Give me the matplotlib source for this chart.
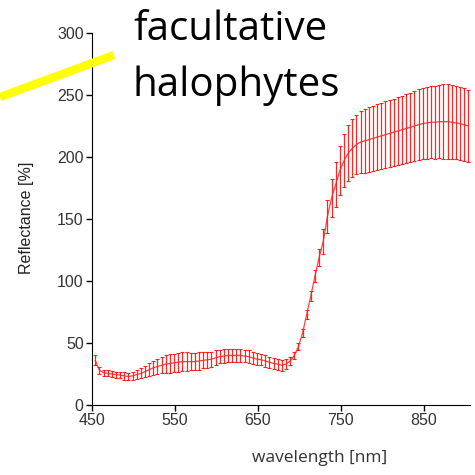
import matplotlib
matplotlib.use("Agg")
import matplotlib.pyplot as plt
from matplotlib.lines import Line2D

# wavelength [nm], every 5 nm
wavelength = list(range(454, 905, 5))

# mean reflectance [%]
reflectance = [
    36, 28, 26, 25.5, 25, 24.5, 24, 23.5, 23, 23.5,
    24.5, 25.5, 27, 28.5, 30, 31, 32, 33, 33.5, 34,
    34.5, 35, 35, 35, 35, 35.5, 36, 36.5, 37, 38,
    39, 39.5, 40, 40, 40, 40, 39.5, 39, 38, 37,
    36.5, 35.5, 34.5, 33.5, 33, 32, 33, 35.5, 40, 47,
    58, 73, 88, 104, 119, 132, 152, 167, 178, 189,
    197, 203, 207, 210, 212, 213, 214, 215, 216, 217,
    218, 219, 220, 221, 222, 223, 224, 225, 226, 227,
    227.5, 228, 228, 228.5, 228.5, 228.5, 228, 227.5, 227, 226,
    225,
]

# error bar half-length [%]
error = [
    4, 3, 2.5, 2.5, 2.5, 2.5, 2.5, 3, 3, 3,
    3.5, 4, 4.5, 5, 5.5, 6, 6.5, 7, 7.5, 7.5,
    7.5, 7.5, 7.5, 7, 7, 7, 6.5, 6.5, 6, 6,
    5.5, 5.5, 5.5, 5.5, 5.5, 5, 5, 5, 5, 5,
    4.5, 4.5, 4.5, 4.5, 4.5, 4.5, 4, 3.5, 3, 3,
    3, 3.5, 4, 5, 7, 10, 13, 15, 18, 20,
    21.5, 22.5, 23.5, 24, 25, 25.5, 26, 26, 26.5, 26.5,
    27, 27, 27, 27.5, 27.5, 28, 28, 28, 28.5, 28.5,
    29, 29, 29.5, 29.5, 30, 30, 30, 29.5, 29.5, 29.5,
    29,
]

fig = plt.figure(figsize=(4.75, 4.75), dpi=100)
ax = fig.add_axes([92 / 475, 1 - 405 / 475, 378 / 475, 372 / 475])

ax.errorbar(wavelength, reflectance, yerr=error, color="#ff2020", lw=0.9,
            ecolor="#ff0000", elinewidth=0.9, capsize=1.2, capthick=0.8, alpha=0.85)

ax.set_xlim(450, 906)
ax.set_ylim(0, 300)
ax.set_xticks([450, 550, 650, 750, 850])
ax.set_yticks([0, 50, 100, 150, 200, 250, 300])
ax.spines["top"].set_visible(False)
ax.spines["right"].set_visible(False)
ax.tick_params(direction="out", length=4, width=1, labelsize=11.5, labelcolor="#333333",
               pad=2)
for lab in ax.get_xticklabels() + ax.get_yticklabels():
    lab.set_family("Liberation Sans")

fig.text(26 / 475, 1 - 218 / 475, "Reflectance [%]", rotation=90, ha="center", va="center",
         fontsize=11.5, family="Liberation Sans", color="#222222")
fig.text(320 / 475, 1 - 458 / 475, "wavelength [nm]", ha="center", va="center",
         fontsize=12.5, family="Open Sans", color="#333333")

fig.text(133 / 475, 1 - 40 / 475, "facultative", ha="left", va="baseline",
         fontsize=29, family="Open Sans", color="black")
fig.text(133 / 475, 1 - 96 / 475, "halophytes", ha="left", va="baseline",
         fontsize=29, family="Open Sans", color="black")

fig.add_artist(Line2D([0, 114 / 475], [1 - 97 / 475, 1 - 55 / 475], color="#ffff00",
                      lw=6, transform=fig.transFigure, solid_capstyle="butt"))

fig.savefig("out.png", dpi=100)
